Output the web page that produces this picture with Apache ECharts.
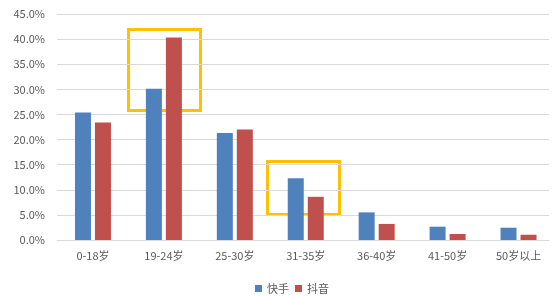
<!DOCTYPE html>
<html><head><meta charset="utf-8">
<script src="https://cdn.jsdelivr.net/npm/echarts@6/dist/echarts.min.js"></script>
<style>html,body{margin:0;padding:0;background:#fff}#c{width:554px;height:296px}</style>
</head><body><div id="c"></div>
<script>
var categories = ['0-18岁','19-24岁','25-30岁','31-35岁','36-40岁','41-50岁','50岁以上'];
var kuaishou = [25.4, 30.1, 21.3, 12.3, 5.5, 2.65, 2.45];
var douyin = [23.4, 40.3, 22.0, 8.6, 3.2, 1.2, 1.05];
var seriesNames = ['快手','抖音'];
var yTicks = [0,5,10,15,20,25,30,35,40,45];

var chart = echarts.init(document.getElementById('c'));
var font = "'Noto Sans CJK SC', 'Noto Sans', sans-serif";
var yMax = yTicks[yTicks.length-1];
chart.setOption({
  animation: false,
  textStyle: {fontFamily: font},
  color: ['#4F81BD','#C0504D'],
  grid: [
    {left: 57, width: 492, top: 14, bottom: 56},
    {left: 57.5, width: 500, top: 14, bottom: 56}
  ],
  legend: {
    top: 278, left: 250, itemWidth: 7, itemHeight: 7, itemGap: 6,
    icon: 'rect',
    textStyle: {color: '#595959', fontSize: 11, fontFamily: font},
    data: seriesNames
  },
  xAxis: [
    {gridIndex: 0, type: 'category', data: categories,
     axisLine: {lineStyle: {color: '#D9D9D9'}}, axisTick: {show: false}, axisLabel: {show: false}},
    {gridIndex: 1, type: 'category', data: categories,
     axisLine: {show: false}, axisTick: {show: false},
     axisLabel: {color: '#595959', fontSize: 11, margin: 10, fontFamily: font}}
  ],
  yAxis: [
    {gridIndex: 0, type: 'value', min: 0, max: yMax, interval: 5,
     axisLine: {show: false}, axisTick: {show: false},
     splitLine: {lineStyle: {color: '#D9D9D9'}},
     axisLabel: {color: '#595959', fontSize: 11, margin: 12, fontFamily: font,
       formatter: function(v){return v.toFixed(1)+'%';}}},
    {gridIndex: 1, type: 'value', min: 0, max: yMax, interval: 5, show: false,
     splitLine: {show: false}}
  ],
  series: [
    {name: seriesNames[0], type: 'bar', xAxisIndex: 1, yAxisIndex: 1, data: kuaishou, barWidth: 16, barGap: '25%'},
    {name: seriesNames[1], type: 'bar', xAxisIndex: 1, yAxisIndex: 1, data: douyin, barWidth: 16, barGap: '25%'}
  ],
  graphic: [
    {type: 'rect', shape: {x: 128.5, y: 29.5, width: 72, height: 81}, style: {fill: 'none', stroke: '#FFC000', lineWidth: 3}},
    {type: 'rect', shape: {x: 267.5, y: 161.5, width: 72, height: 53}, style: {fill: 'none', stroke: '#FFC000', lineWidth: 3}}
  ]
});
</script></body></html>
